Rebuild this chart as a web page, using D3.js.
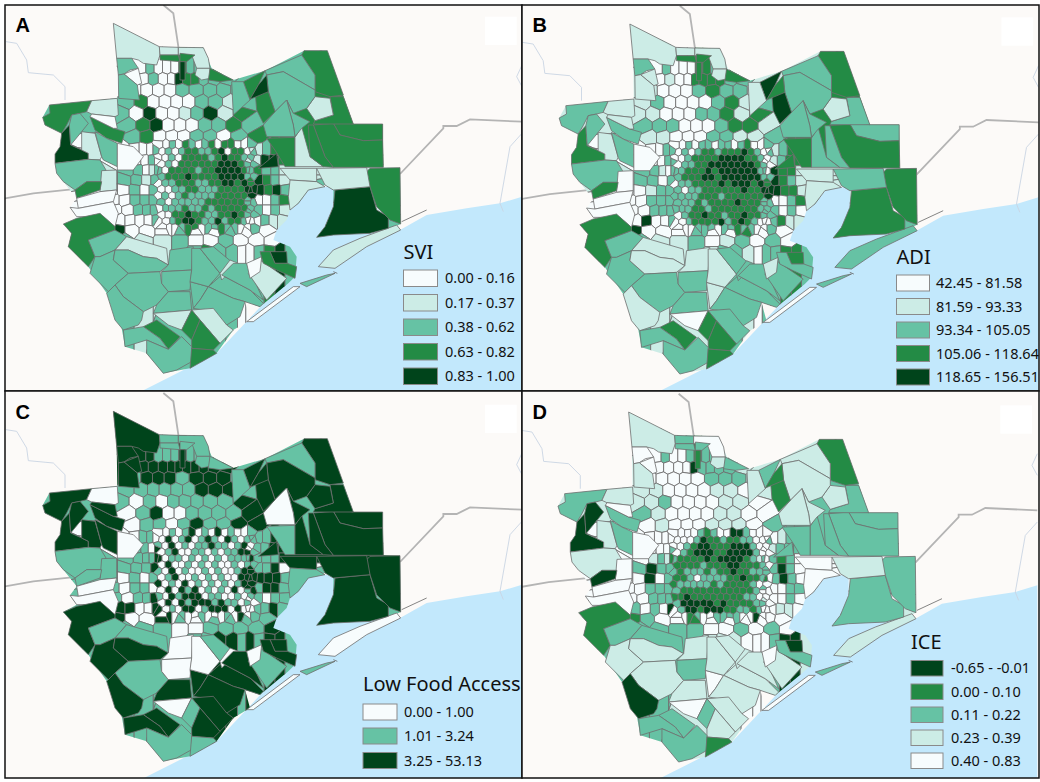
<!DOCTYPE html>
<html>
<head>
<meta charset="utf-8">
<script src="https://cdn.jsdelivr.net/npm/d3@7"></script>
<style>
body { margin: 0; background: #fff; }
svg { display: block; }
text { font-family: "Noto Sans", sans-serif; fill: #111; }
.tag { font-family: "Liberation Sans", Arial, sans-serif; font-weight: 700; font-size: 20px; fill: #000; }
</style>
</head>
<body>
<div id="chart"></div>
<script>
// Everything geographic is in one map unit system
const mapW = 1566, mapH = 1176;

const shades = ["#f7fcfd", "#ccece6", "#66c2a4", "#238b45", "#00441b"];

// Legends
const sviLabels = ["0.00 - 0.16", "0.17 - 0.37", "0.38 - 0.62", "0.63 - 0.82", "0.83 - 1.00"];
const adiLabels = ["42.45 - 81.58", "81.59 - 93.33", "93.34 - 105.05", "105.06 - 118.64", "118.65 - 156.51"];
const lfaLabels = ["0.00 - 1.00", "1.01 - 3.24", "3.25 - 53.13"];
const iceLabels = ["-0.65 - -0.01", "0.00 - 0.10", "0.11 - 0.22", "0.23 - 0.39", "0.40 - 0.83"];
const sviShades = [0, 1, 2, 3, 4];
const adiShades = [0, 1, 2, 3, 4];
const lfaShades = [0, 2, 4];
const iceShades = [4, 3, 2, 1, 0];

// Base map
const gulf = "420,1176 650,1060 800,900 830,620 900,560 1000,560 1100,690 1200,690 1280,645 1400,625 1500,610 1566,590 1566,1176";
const county = "340,70 478,140 610,143 635,205 700,240 795,212 912,152 982,152 1060,372 1148,372 1150,502 1200,503 1202,672 1165,690 1000,705 950,712 975,680 1000,620 1000,570 975,555 925,570 895,610 870,630 860,660 830,690 820,720 870,740 890,770 885,830 865,850 780,920 735,905 750,960 700,990 650,1060 570,1105 490,1120 440,1060 375,1040 365,985 320,880 265,800 205,740 215,700 190,672 230,650 210,622 230,595 190,545 170,520 165,490 165,462 180,440 185,400 135,375 128,352 148,315 275,302 352,295 350,175";
const highways = [
  "490,15 520,40 535,140 538,180",
  "15,595 100,580 215,568",
  "1200,522 1330,385 1330,378 1370,378 1410,358 1566,365"
];
const rivers = [
  "18,125 50,130 80,180 85,218 160,225 195,260 195,300",
  "1566,195 1550,230 1566,260",
  "1566,400 1530,440 1500,610 1510,635"
];
const channel = ["1205,665 1280,630", "1000,815 1012,820"];

// Large outer tracts
const outerTracts = [
  "340,70 478,140 480,165 470,195 430,190 415,180 395,175 350,175",
  "478,140 535,142 535,165 480,165",
  "535,142 610,143 625,175 630,205 590,205 575,165 535,165",
  "480,165 535,165 540,185 480,180",
  "540,160 585,165 560,185 540,185",
  "540,185 555,185 555,240 540,240",
  "590,205 630,205 630,235 605,240 585,225",
  "630,205 700,240 660,245 625,240",
  "350,175 395,175 415,205 390,210 372,222 355,225",
  "372,222 415,205 425,250 412,255",
  "355,225 372,222 412,255 418,300 356,295",
  "148,315 275,302 260,335 240,340 215,345 200,375 185,400 135,375 128,352 150,340",
  "275,302 352,295 355,345 345,350 275,342 260,335",
  "270,350 340,385 375,395 365,430 320,415 285,390",
  "275,342 345,350 352,385 340,385 270,350",
  "185,400 208,375 212,435 245,450 265,460 265,478 165,490 165,462 180,440",
  "215,345 240,340 265,370 245,395 212,435 208,375",
  "245,395 285,400 305,470 300,480 265,478 265,460 245,450",
  "285,395 320,415 352,430 352,500 310,480 305,470",
  "165,490 265,478 300,480 318,510 305,545 260,545 225,570 190,545 170,520",
  "352,430 400,440 430,470 400,510 352,510",
  "305,512 350,510 350,570 300,575",
  "225,570 260,545 305,545 300,570 230,595",
  "230,595 300,575 350,570 340,605 235,625",
  "210,622 235,625 340,605 355,640 345,680 310,650 230,650",
  "190,672 230,655 300,640 345,680 345,690 265,720 285,770 265,800 205,740 215,700",
  "345,690 380,710 345,750 300,770 285,770 265,720",
  "380,710 500,745 505,795 470,775 430,770 385,750 345,750",
  "285,770 300,770 345,750 340,780 385,820 345,855 325,875 270,820",
  "345,750 385,750 430,770 470,775 505,795 480,815 385,820 340,780",
  "385,820 480,815 485,850 505,875 470,915 430,935 370,890 345,855",
  "320,880 345,855 370,890 430,935 425,960 415,975 370,990 345,960",
  "510,750 580,740 575,810 485,815 505,795",
  "485,815 575,810 570,870 505,875 485,850",
  "505,875 570,875 575,930 460,940 470,915",
  "570,845 625,860 600,900 580,925",
  "575,745 600,745 660,820 625,860 570,845 575,810",
  "625,860 665,825 750,870 790,910 780,920 735,905 700,895",
  "580,925 600,900 625,860 700,895 735,905 720,950 680,975 640,935",
  "460,940 575,930 545,990 505,975",
  "575,930 640,925 680,975 700,990 660,1030 600,960",
  "545,990 575,930 600,960 575,1020",
  "600,960 660,1030 640,1050 575,1045 575,1020",
  "430,980 470,960 540,1010 505,1048 480,1015",
  "370,990 430,980 480,1015 505,1048 440,1020 375,1040",
  "440,1020 505,1048 545,1010 575,1040 575,1085 530,1110 490,1120 440,1060",
  "575,1045 640,1050 650,1060 570,1105",
  "600,745 640,740 700,790 660,820",
  "660,820 690,780 715,790 690,815 665,840",
  "700,790 740,790 790,900 750,870 665,825",
  "745,820 780,780 860,835 800,900",
  "740,790 785,770 780,815 750,835",
  "810,755 860,755 862,790 825,790",
  "780,755 810,755 825,790 862,790 890,800 885,835 830,810 790,790",
  "740,965 880,860 900,860 760,965",
  "900,850 980,825 1005,820 920,860",
  "955,800 1000,750 1080,715 1190,675 1202,690 1100,740 1005,805",
  "1005,570 1110,560 1120,595 1130,630 1165,650 1165,685 1110,700 1000,705 950,712 975,680 1000,620",
  "1110,505 1200,503 1202,672 1170,660 1130,620 1110,560 1095,520",
  "840,505 950,505 950,545 870,540",
  "950,505 1100,503 1110,560 1000,570 975,555",
  "870,540 950,545 975,560 925,570 895,610 870,630 865,590",
  "800,415 885,412 885,500 855,500 830,458",
  "885,412 905,380 930,470 970,500 885,500",
  "990,360 1060,372 1148,372 1148,420 1090,422 1020,405 1000,370",
  "940,375 1000,370 1020,405 1090,422 1148,420 1150,502 1000,502 975,470",
  "925,375 940,375 975,470 1000,502 970,500 930,470",
  "990,290 1030,290 1060,372 940,372 945,362 1000,345",
  "945,290 990,295 1000,345 945,362 920,325",
  "912,152 982,152 1030,285 990,290 945,275 945,225 915,180 905,165",
  "795,212 905,165 945,225 945,270 850,215 800,225",
  "800,225 850,215 945,270 945,290 920,325 880,340 860,300 825,335 805,275",
  "860,300 880,340 930,365 905,385 885,410 880,375",
  "825,335 860,300 880,375 885,410 800,410 790,375",
  "765,270 805,275 825,335 790,370 770,330",
  "730,245 795,212 775,255 750,300",
  "775,255 800,225 805,275 750,298",
  "695,245 730,245 750,300 700,345",
  "775,505 830,460 835,500"
];
const outerSvi = [1,1,1,3,3,4,1,3,2,0, 2,3,1,3,0,4,2,1,2,2, 0,1,3,0,0,3,2,1,2,2, 2,2,2,2,2,2,2,2,2,1, 1,3,3,3,2,2,3,2,1,2, 1,0,4,3,0,2,1,4,3,1, 1,1,3,1,3,3,3,3,1,3, 2,2,2,2,3,3,4,2,4];
const outerAdi = [1,1,1,3,3,3,1,3,2,1, 1,2,1,2,1,3,2,1,2,2, 0,0,3,0,0,3,2,1,2,1, 2,1,1,2,2,1,1,2,2,0, 2,3,3,3,2,2,3,2,2,2, 2,1,3,2,0,2,2,3,3,1, 2,1,3,2,2,3,2,2,1,3, 2,2,2,2,4,4,3,1,3];
const outerLfa = [4,2,2,2,2,4,2,2,4,4, 4,4,0,4,4,4,4,4,4,2, 0,2,2,0,0,4,2,2,4,4, 2,4,0,0,4,4,0,4,4,0, 4,2,4,4,4,2,2,2,0,4, 2,0,4,4,0,2,0,4,4,4, 4,2,2,4,4,4,4,4,4,4, 2,4,4,0,4,4,4,2,4];
const outerIce = [1,2,0,2,2,3,1,2,0,0, 1,2,1,2,0,4,4,1,2,1, 0,0,4,0,0,3,2,2,1,1, 1,4,1,2,1,0,1,1,1,0, 1,2,1,2,2,2,3,1,1,1, 1,0,4,2,0,2,1,2,2,0, 1,0,2,2,2,2,2,2,1,3, 1,1,1,1,3,2,3,1,2];

// Smaller tracts around the centre, one seed per tract, row by row
const suburbY = [205, 235, 270, 305, 340, 375, 410, 450, 480, 510, 540, 570, 600, 630, 660, 690, 720, 755];
const suburbX = [
  [425,450,475,500,525,548,570,595,620,660],
  [430,460,490,515,535,560,585,610,640,680],
  [375,405,440,475,510,545,590,630,670,715],
  [380,425,460,495,530,565,605,645,690,735],
  [365,410,450,485,520,555,590,630,675,725],
  [385,430,470,505,540,575,615,655,700,750],
  [400,440,480,515,550,590,630,670,715,770],
  [370,405,430,450,468,755,775,800,825,850],
  [365,410,435,455,472,745,770,795,820,850],
  [385,415,440,455,472,745,770,800,825,850],
  [330,375,410,440,465,750,775,800,825,850],
  [335,370,405,435,460,750,780,805,830,855],
  [340,375,405,435,460,745,775,800,825,850],
  [345,385,415,440,462,745,775,800,825,852],
  [360,390,420,445,468,745,770,795,820,845],
  [355,395,440,490,540,590,640,690,740,800],
  [375,430,490,540,590,630,680,720,770,815],
  [590,620,655,700,725,750,775,810,840,870]
];
const suburbSvi = ["0200032223","0200433222","0000022222","2300002212","2040012413","2340002232","2300022023","0000211233","0002011443","2201223221","1221234321","0020244342","0022220023","0022222021","0000200211","4000200200","2112002000","2322002342"];
const suburbAdi = ["0200033213","0100333322","1100023221","1200002312","1100022313","2220002331","1100022112","0002201233","0002201233","2210224331","1220234321","0012244331","0022220023","0022222020","0400202311","4000200300","2112012020","1221022332"];
const suburbLfa = ["4422242222","4444444444","4244424442","2222224442","2020222224","0240022224","0220242244","0022022242","0220402244","2222422224","2222442240","2020244442","2022042442","2022402022","4400402242","4004202222","2220022224","2244242442"];
const suburbIce = ["0200232212","0000422221","1000002221","1100001101","1120000110","2100001100","0100011102","0000000122","0000201222","0121322320","0242222420","0040232420","0022220022","0022210020","2020400110","3200300000","2222002020","1110002441"];

// Dense core
const coreY = [435, 454, 473, 492, 511, 530, 549, 568, 587, 606, 625, 644, 663, 682];
const coreX = [
  [478,499,517,536,558,575,597,614,636,653,675,692,714,732,753],
  [486,505,526,545,564,586,604,625,643,665,683,704,722,743,760],
  [475,496,514,537,555,574,596,615,634,656,673,695,713,734,751],
  [484,507,524,546,563,585,606,623,645,662,684,703,724,741,762],
  [477,495,516,535,557,576,595,617,633,655,674,694,715,733,752],
  [487,504,527,544,565,584,605,624,646,663,685,702,725,742,761],
  [474,497,515,538,554,577,594,616,635,654,676,693,712,735,750],
  [485,506,525,547,566,583,607,626,644,664,682,705,723,744,763],
  [476,494,518,534,556,573,598,613,637,652,677,691,716,731,754],
  [483,508,523,548,562,587,603,627,642,666,681,706,721,745,759],
  [479,498,513,539,553,578,593,618,632,657,672,696,711,736,749],
  [488,503,528,543,567,582,608,622,647,661,686,701,726,740,764],
  [473,500,519,533,559,572,599,612,638,651,678,690,717,730,755],
  [490,509,522,549,561,588,602,628,641,667,680,707,720,746,758]
];
const coreSvi = ["002032023033002","020233223403302","002033332343322","020333333444322","203333233444432","233343333444422","022333223344343","002233222333344","020232222333334","202222233333322","022232232333332","003343322334322","002344322423320","000233022322002"];
const coreAdi = ["002022022023002","020233233343202","002333344443320","022334444444320","223334344444420","233344344444422","022333343444343","202233333343344","222233323333334","222323333433322","222332333333322","023343323343322","002333342343200","000222022322002"];
const coreLfa = ["002024020402002","040240242042022","204020224220240","024002202022442","402202020202224","040020202002022","204020020200244","024002020200444","402040202020244","040424020204024","204244402200202","040424442422020","402044024440400","040200200020402"];
const coreIce = ["000023200442000","000243323322002","002344333444200","023444334444200","233334344443210","333323334433320","232223233433222","332022223343320","322222323333200","233333333333200","334333333332200","244444343333220","024434443322320","003200222200400"];

const panels = [
  {tag: "A", id: "svi", dx: 0, dy: 0, x0: 5, y0: 5, x1: 522, y1: 391, title: "SVI", labels: sviLabels, key: sviShades, outer: outerSvi, suburb: suburbSvi, core: coreSvi,
   lx: 403.5, titleY: 259, rowY: [270, 294.5, 319, 343.5, 368], boxW: 34, boxH: 16.5, textX: 445},
  {tag: "B", id: "adi", dx: 516.5, dy: 0.7, x0: 522, y0: 5, x1: 1039, y1: 391, title: "ADI", labels: adiLabels, key: adiShades, outer: outerAdi, suburb: suburbAdi, core: coreAdi,
   lx: 896.5, titleY: 264, rowY: [275, 298.5, 322, 345.5, 369], boxW: 33, boxH: 16, textX: 936},
  {tag: "C", id: "lfa", dx: 0, dy: 388, x0: 5, y0: 391, x1: 522, y1: 778, title: "Low Food Access", labels: lfaLabels, key: lfaShades, outer: outerLfa, suburb: suburbLfa, core: coreLfa,
   lx: 363, titleY: 691, rowY: [704, 728, 752.5], boxW: 34, boxH: 16, textX: 404},
  {tag: "D", id: "ice", dx: 515.3, dy: 388.7, x0: 522, y0: 391, x1: 1039, y1: 778, title: "ICE", labels: iceLabels, key: iceShades, outer: outerIce, suburb: suburbIce, core: coreIce,
   lx: 911, titleY: 649, rowY: [660.5, 684, 707, 730, 753], boxW: 32, boxH: 15.5, textX: 951}
];

const parsePts = s => s.split(" ").map(p => p.split(",").map(Number));

// Seeds in one flat list for the Voronoi tessellation
const seeds = [];
suburbY.forEach((y, r) => suburbX[r].forEach(x => seeds.push([x, y])));
coreY.forEach((y, r) => coreX[r].forEach(x => seeds.push([x, y])));
const voronoi = d3.Delaunay.from(seeds).voronoi([0, 0, mapW, mapH]);

const svg = d3.select("#chart").append("svg")
  .attr("width", 1040)
  .attr("height", 782);

panels.forEach(p => {
  const x = d3.scaleLinear().domain([0, mapW]).range([p.dx, p.dx + 522]);
  const y = d3.scaleLinear().domain([0, mapH]).range([p.dy, p.dy + 392]);
  const line = d3.line().x(d => x(d[0])).y(d => y(d[1]));
  const closed = pts => line(pts) + "Z";

  const defs = svg.append("defs");
  defs.append("clipPath").attr("id", "frame-" + p.id).append("rect")
    .attr("x", p.x0).attr("y", p.y0)
    .attr("width", p.x1 - p.x0).attr("height", p.y1 - p.y0);
  defs.append("clipPath").attr("id", "county-" + p.id).append("path")
    .attr("d", closed(parsePts(county)));

  const g = svg.append("g").attr("clip-path", "url(#frame-" + p.id + ")");

  g.append("rect")
    .attr("x", p.x0).attr("y", p.y0)
    .attr("width", p.x1 - p.x0).attr("height", p.y1 - p.y0)
    .attr("fill", "#fcfaf8");
  g.append("rect")
    .attr("x", x(1455)).attr("y", y(50))
    .attr("width", x(1550) - x(1455)).attr("height", y(135) - y(50))
    .attr("fill", "#fff");
  g.append("path").attr("d", closed(parsePts(gulf))).attr("fill", "#c2e8fc");

  g.selectAll(".river").data(rivers).join("path")
    .attr("class", "river")
    .attr("d", d => line(parsePts(d)))
    .attr("fill", "none").attr("stroke", "#c9d5e3").attr("stroke-width", 0.9);
  g.selectAll(".highway").data(highways).join("path")
    .attr("class", "highway")
    .attr("d", d => line(parsePts(d)))
    .attr("fill", "none").attr("stroke", "#b4b4b4").attr("stroke-width", 1.8);
  g.selectAll(".channel").data(channel).join("path")
    .attr("class", "channel")
    .attr("d", d => line(parsePts(d)))
    .attr("fill", "none").attr("stroke", "#666").attr("stroke-width", 0.8);

  // class of every seed, same order as the seeds list
  const seedClass = (p.suburb.join("") + p.core.join("")).split("").map(Number);

  g.append("g")
    .attr("clip-path", "url(#county-" + p.id + ")")
    .selectAll("path").data(seeds).join("path")
    .attr("d", (d, i) => closed(voronoi.cellPolygon(i)))
    .attr("fill", (d, i) => shades[seedClass[i]])
    .attr("stroke", "#6e6e6e").attr("stroke-width", 0.85);

  g.append("g")
    .selectAll("path").data(outerTracts).join("path")
    .attr("d", d => closed(parsePts(d)))
    .attr("fill", (d, i) => shades[p.outer[i]])
    .attr("stroke", "#6e6e6e").attr("stroke-width", 0.8)
    .attr("stroke-linejoin", "round");

  // Legend
  g.append("text").attr("x", p.lx).attr("y", p.titleY)
    .attr("font-size", 20).text(p.title);
  p.labels.forEach((label, i) => {
    g.append("rect")
      .attr("x", p.lx).attr("y", p.rowY[i])
      .attr("width", p.boxW).attr("height", p.boxH)
      .attr("fill", shades[p.key[i]])
      .attr("stroke", "#8a8a8a").attr("stroke-width", 1);
    g.append("text")
      .attr("x", p.textX).attr("y", p.rowY[i] + p.boxH / 2 + 5)
      .attr("font-size", 14.5).text(label);
  });

  svg.append("text").attr("class", "tag")
    .attr("x", p.x0 + 10.5).attr("y", p.tag < "C" ? 32 : p.y0 + 28).text(p.tag);
  svg.append("rect")
    .attr("x", p.x0).attr("y", p.y0)
    .attr("width", p.x1 - p.x0).attr("height", p.y1 - p.y0)
    .attr("fill", "none").attr("stroke", "#111").attr("stroke-width", 1.5);
});
</script>
</body>
</html>
